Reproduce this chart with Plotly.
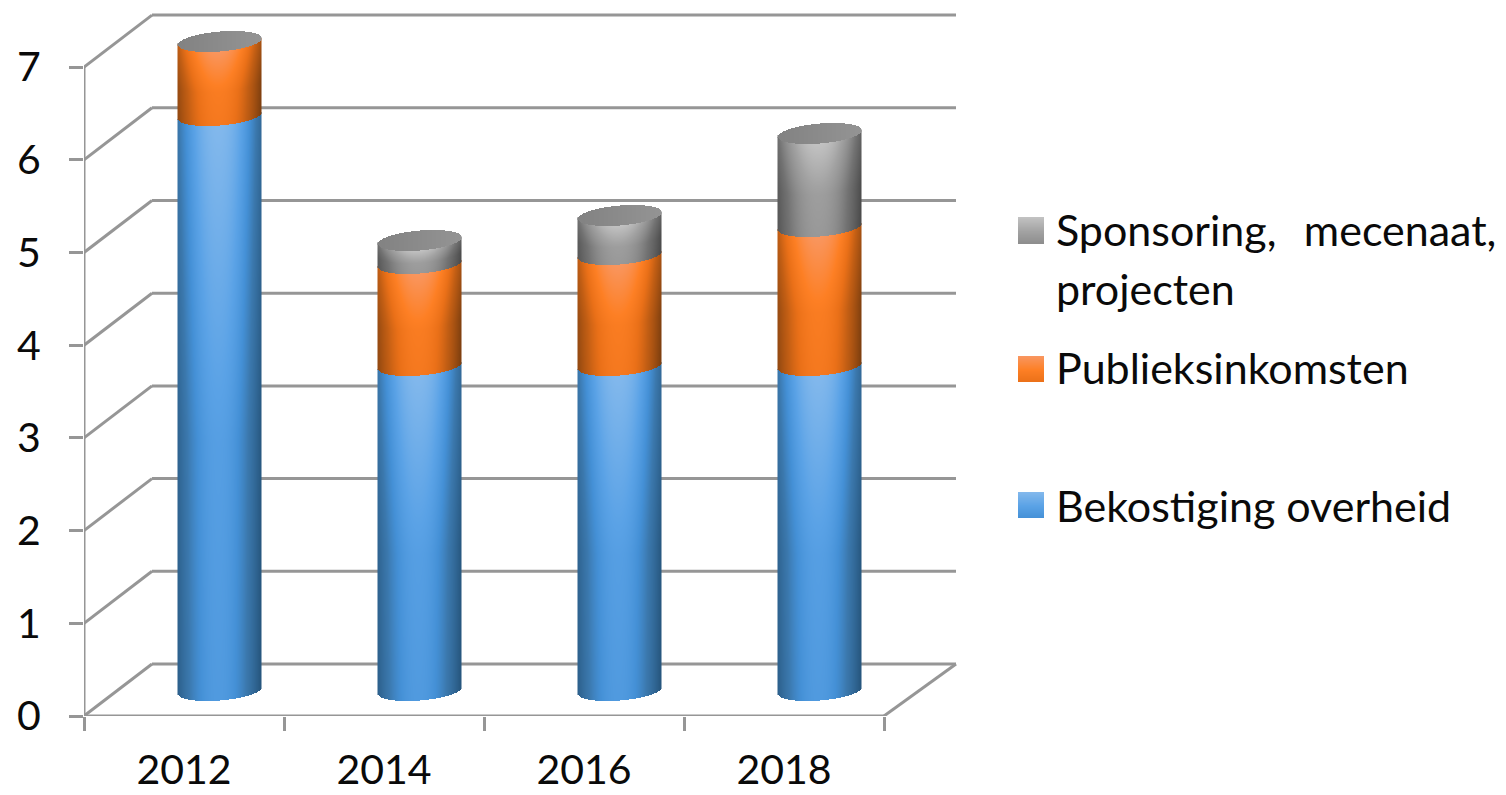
import numpy as np
import plotly.graph_objects as go

# ---- data ----
years = ["2012", "2014", "2016", "2018"]
bekostiging = [6.2, 3.5, 3.5, 3.5]
publiek = [0.8, 1.1, 1.2, 1.5]
sponsoring = [0.0, 0.25, 0.42, 1.0]
y_ticks = [0, 1, 2, 3, 4, 5, 6, 7]

# ---- geometry of the oblique view (slot = one category) ----
PX_X, PX_Y = 200.0, 92.7          # pixels per x slot / per value unit
DEPTH_X, DEPTH_Y = 68 / PX_X, 52 / PX_Y
HALF_W = 42 / PX_X
RY, SHEAR = 10 / PX_Y, 3.3 / PX_Y
WALL_END = (956 - 84) / PX_X
GRID = "#969696"
FONT = "Lato"
TXT = "#0a0a0a"

SCALES = {
    "blue": [[0, "#27577f"], [0.42, "#3b78ad"], [0.62, "#4490d6"], [0.8, "#5aa2e6"], [1, "#82b8ec"]],
    "orange": [[0, "#80400f"], [0.42, "#c25e14"], [0.62, "#ea7018"], [0.8, "#fd7f24"], [1, "#f9965f"]],
    "gray": [[0, "#4c4c4c"], [0.42, "#727272"], [0.62, "#8c8c8c"], [0.8, "#a2a2a2"], [1, "#c2c2c2"]],
}
series = [("Bekostiging overheid", bekostiging, "blue"),
          ("Publieksinkomsten", publiek, "orange"),
          ("Sponsoring, mecenaat, projecten", sponsoring, "gray")]


def arc(v, u, side):
    """Value-axis height of an ellipse edge at horizontal position u in [-1, 1]."""
    return v + SHEAR * u + side * RY * np.sqrt(np.clip(1 - u ** 2, 0, 1))


def heat(x, y, z, scale, name="", zmin=0, zmax=1):
    return go.Heatmap(x=x, y=y, z=z, colorscale=scale, zmin=zmin, zmax=zmax,
                      showscale=False, hoverongaps=False, name=name,
                      hovertemplate=name + "<extra></extra>" if name else None,
                      hoverinfo=None if name else "skip")


fig = go.Figure()
lift = DEPTH_Y / 2
OVERLAP = 2 / PX_Y
for i, year in enumerate(years):
    cx = i + 0.5 + DEPTH_X / 2 + 1.5 / PX_X
    xs = cx + (np.arange(-42, 42) + 0.5) / PX_X
    u = (xs - cx) / HALF_W
    shade = 1 - np.abs((u + 0.04) / 1.04) ** 2.1
    shade = shade - 0.10 * np.clip(u, 0, 1) ** 3
    low = lift
    for name, vals, key in series:
        val = vals[i]
        high = low + val
        if val > 0:
            ys = np.arange(low - 2 * RY, high + 2 * RY, 1 / PX_Y)
            U, Y = np.meshgrid(u, ys)
            S = np.meshgrid(shade, ys)[0]
            lo, hi = arc(low, U, -1), arc(high, U, -1)
            t = np.clip((Y - lo) / (hi - lo), 0, 1)
            Z = 0.72 * S + 0.28 * (0.35 * t + 0.65 * np.clip((t - 0.45) / 0.55, 0, 1))
            Z[(Y < lo) | (Y >= hi + OVERLAP)] = np.nan
            fig.add_trace(heat(xs, ys, Z, SCALES[key], f"{name} {year}: {val}"))
        low = high
    # top cap
    ys = np.arange(low - 2 * RY, low + 2 * RY, 1 / PX_Y)
    U, Y = np.meshgrid(u, ys)
    Z = 0.5 + 0.5 * U
    Z[(Y < arc(low, U, -1)) | (Y > arc(low, U, 1))] = np.nan
    fig.add_trace(heat(xs, ys, Z, [[0, "#828282"], [1, "#949494"]]))

# ---- legend ----
leg_items = [("Sponsoring,&nbsp;&nbsp;&#8201;mecenaat,", 229, "gray", 217, 244),
             ("projecten", 288, None, 0, 0),
             ("Publieksinkomsten", 367, "orange", 356, 382),
             ("Bekostiging overheid", 505, "blue", 492, 518)]
annotations = []
for text, cy, key, top, bot in leg_items:
    annotations.append(dict(x=(1054 - 84) / PX_X, y=(716 - cy) / PX_Y, xref="x", yref="y",
                            text=text, showarrow=False, xanchor="left", yanchor="middle",
                            font=dict(family=FONT, size=43, color=TXT)))
    if key:
        sx = (np.arange(1018, 1044) + 0.5 - 84) / PX_X
        sy = (716 - (np.arange(top, bot) + 0.5)) / PX_Y
        frac = (np.arange(top, bot) - top) / (bot - top)
        fig.add_trace(heat(sx, sy, np.tile((1 - 0.38 * frac)[:, None], (1, len(sx))), SCALES[key]))

# ---- oblique grid, as shapes under the traces ----
shapes = []
line = dict(color=GRID, width=3)


def seg(x0, y0, x1, y1):
    shapes.append(dict(type="line", x0=x0, y0=y0, x1=x1, y1=y1, xref="x", yref="y",
                       line=line, layer="below"))


for v in y_ticks:
    seg(0, v, DEPTH_X, v + DEPTH_Y)
    seg(DEPTH_X, v + DEPTH_Y, WALL_END, v + DEPTH_Y)
seg(0, 0, 0, y_ticks[-1])
seg(0, 0, len(years), 0)
seg(len(years), 0, WALL_END, DEPTH_Y)

font = dict(family=FONT, size=41, color=TXT)
fig.update_layout(
    width=1506, height=795, margin=dict(l=84, r=0, t=0, b=79, autoexpand=False),
    paper_bgcolor="white", plot_bgcolor="white", showlegend=False,
    shapes=shapes, annotations=annotations,
    xaxis=dict(range=[0, (1506 - 84) / PX_X], showgrid=False, zeroline=False, showline=False,
               automargin=False,
               tickmode="array", tickvals=[i + 0.5 for i in range(len(years))], ticktext=years,
               ticks="", tickfont=font, ticklabelstandoff=26,
               minor=dict(tickmode="array", tickvals=list(range(len(years) + 1)), ticks="outside",
                          ticklen=14, tickwidth=3, tickcolor=GRID, showgrid=False)),
    yaxis=dict(range=[0, 716 / PX_Y], showgrid=False, zeroline=False, showline=False,
               automargin=False,
               tickmode="array", tickvals=y_ticks, ticks="outside", ticklen=14, tickwidth=3,
               tickcolor=GRID, tickfont=font, ticklabelstandoff=20),
)
fig.write_html("out.html", config={"displayModeBar": False},
               post_script="document.body.style.margin='0';")
